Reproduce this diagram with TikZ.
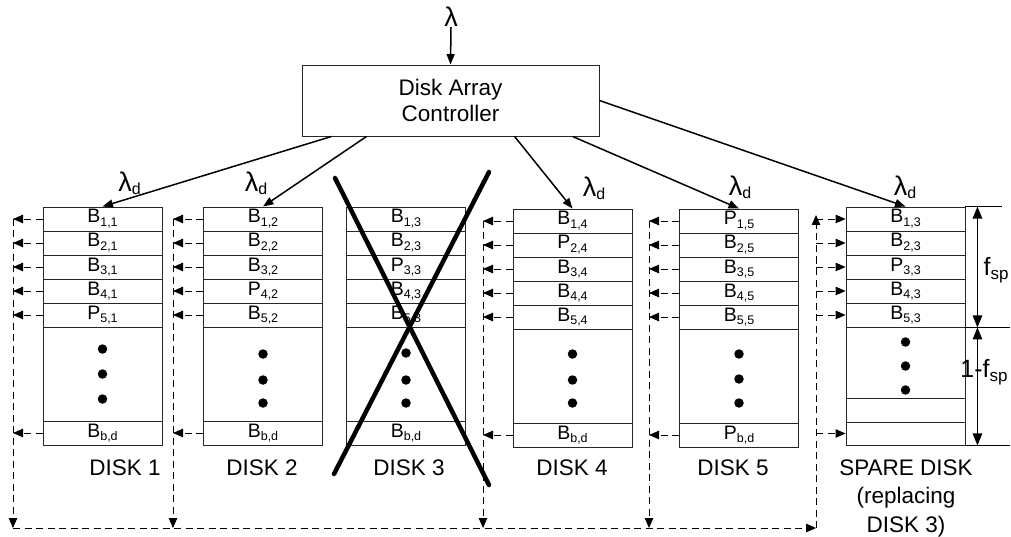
\documentclass[tikz,border=0pt]{standalone}
\usepackage{fontspec}
\setmainfont{Liberation Sans}
\usetikzlibrary{arrows.meta,calc}
\newcommand{\sbx}[2]{#1\raisebox{-3.5pt}{\fontsize{12.5pt}{12.5pt}\selectfont #2}}
\newcommand{\lamd}{{\fontsize{27pt}{27pt}\selectfont λ}\raisebox{-3pt}{\fontsize{16pt}{16pt}\selectfont d}}
\newcommand{\mkdisk}[9]{%
  \node[cell] (#1r1) at (#2,#3+12) {#4};
  \node[cell] (#1r2) at (#2,#3+36) {#5};
  \node[cell] (#1r3) at (#2,#3+60) {#6};
  \node[cell] (#1r4) at (#2,#3+84) {#7};
  \node[cell] (#1r5) at (#2,#3+108) {#8};
  \node[cell, minimum height=94pt] (#1m) at (#2,#3+167) {};
  \node[cell] (#1b) at (#2,#3+226) {#9};
}
\begin{document}
\begin{tikzpicture}[x=1pt,y=-1pt,
  cell/.style={draw=black!85, line width=0.9pt, minimum width=119pt, minimum height=24pt,
    inner sep=0pt, text height=12pt, text depth=4pt, font=\fontsize{19.5pt}{20pt}\selectfont},
  ctrlarr/.style={line width=1.5pt, -{Triangle[length=10.5pt,width=8pt]}},
  dasharr/.style={line width=0.9pt, dash pattern=on 7pt off 4.5pt, -{Triangle[length=10pt,width=8.5pt]}},
  dimarr/.style={line width=1.2pt, {Triangle[length=12pt,width=9.5pt]}-{Triangle[length=12pt,width=9.5pt]}},
  xline/.style={line width=4.5pt, line cap=round},
  dlabel/.style={font=\fontsize{22.5pt}{28.5pt}\selectfont, anchor=base, inner sep=0pt, align=center},
  lab/.style={inner sep=0pt},
  dot/.style={circle, fill=black, inner sep=0pt, minimum size=9.5pt}
]
\useasboundingbox (0,0) rectangle (1011,537);

% controller
\node[draw=black!85, line width=0.9pt, minimum width=297pt, minimum height=71pt, inner sep=0pt,
  align=center, font=\fontsize{22.5pt}{26pt}\selectfont] (ctrl) at (450.5,100.5) {Disk Array\\Controller};
\node[lab, anchor=base, font=\fontsize{27pt}{27pt}\selectfont] (lam) at (451,27) {λ};
\draw[ctrlarr] (lam.south) -- (ctrl.north);

% disks
\mkdisk{da}{102.5}{207}{\sbx{B}{1,1}}{\sbx{B}{2,1}}{\sbx{B}{3,1}}{\sbx{B}{4,1}}{\sbx{P}{5,1}}{\sbx{B}{b,d}}
\mkdisk{db}{263}{207}{\sbx{B}{1,2}}{\sbx{B}{2,2}}{\sbx{B}{3,2}}{\sbx{P}{4,2}}{\sbx{B}{5,2}}{\sbx{B}{b,d}}
\mkdisk{dc}{406}{207}{\sbx{B}{1,3}}{\sbx{B}{2,3}}{\sbx{P}{3,3}}{\sbx{B}{4,3}}{\sbx{B}{5,3}}{\sbx{B}{b,d}}
\mkdisk{dd}{572.5}{209}{\sbx{B}{1,4}}{\sbx{P}{2,4}}{\sbx{B}{3,4}}{\sbx{B}{4,4}}{\sbx{B}{5,4}}{\sbx{B}{b,d}}
\mkdisk{de}{739}{209}{\sbx{P}{1,5}}{\sbx{B}{2,5}}{\sbx{B}{3,5}}{\sbx{B}{4,5}}{\sbx{B}{5,5}}{\sbx{P}{b,d}}

% spare disk
\node[cell] (sr1) at (905.5,219) {\sbx{B}{1,3}};
\node[cell] (sr2) at (905.5,243) {\sbx{B}{2,3}};
\node[cell] (sr3) at (905.5,267) {\sbx{P}{3,3}};
\node[cell] (sr4) at (905.5,291) {\sbx{B}{4,3}};
\node[cell] (sr5) at (905.5,315) {\sbx{B}{5,3}};
\node[cell, minimum height=71pt] (sm) at (905.5,362.5) {};
\node[cell] (sr6) at (905.5,410) {};
\node[cell, minimum height=23pt] (sb) at (905.5,433.5) {};

% dots
\foreach \x/\a/\b/\c [count=\i] in {102.5/349/374/399, 263/354/380/403, 406/353/380/403,
    572.5/354/380/403, 739/354/379/403, 905.5/342/366/390}{
  \node[dot] (p\i a) at (\x,\a) {};
  \node[dot] (p\i b) at (\x,\b) {};
  \node[dot] (p\i c) at (\x,\c) {};
}

% controller connectors
\draw[ctrlarr] ($(ctrl.south west)+(30,0)$) -- (dar1.north);
\draw[ctrlarr] ($(ctrl.south west)+(65,0)$) -- (dbr1.north);
\draw[ctrlarr] ($(ctrl.south west)+(213,0)$) -- (ddr1.north);
\draw[ctrlarr] ($(ctrl.south west)+(271,0)$) -- (der1.north);
\draw[ctrlarr] (ctrl.east) -- (sr1.north);

\node[lab] (l1) at (129.5,183) {\lamd};
\node[lab] (l2) at (256,183) {\lamd};
\node[lab] (l4) at (594,188) {\lamd};
\node[lab] (l5) at (740,187) {\lamd};
\node[lab] (l6) at (905,187) {\lamd};

% dashed return paths
\coordinate (xa) at (13,0);
\coordinate (xb) at (173,0);
\coordinate (xd) at (483,0);
\coordinate (xe) at (649,0);
\coordinate (xs) at (816,0);
\coordinate (ya) at (0,528);
\foreach \d/\v in {da/xa, db/xb, dd/xd, de/xe}{
  \foreach \r in {r1,r2,r3,r4,r5,b}{
    \draw[dasharr] (\d\r.west) -- (\d\r.west -| \v);
  }
  \draw[dasharr] (\d r1.west -| \v) -- (ya -| \v);
}
\draw[dasharr] (ya -| xa) -- (ya -| xs);
\draw[dasharr] (ya -| xs) -- ($(sr1.west -| xs)+(0,-4)$);
\foreach \r in {sr1,sr2,sr3,sr4,sr5,sb}{
  \draw[dasharr] (\r.west -| xs) -- (\r.west);
}

% dimension lines
\draw[line width=1.5pt] (sr1.north east) -- ++(37,0);
\draw[line width=1.2pt] (sr5.south east) -- ++(45,0);
\draw[line width=1.2pt] (sb.south east) -- ++(45,0);
\draw[dimarr] ($(sr1.north east)+(12,0)$) -- ($(sr5.south east)+(12,0)$);
\draw[dimarr] ($(sr5.south east)+(12,0)$) -- ($(sb.south east)+(12,0)$);
\node[lab, font=\fontsize{25pt}{25pt}\selectfont] (fsp) at (996,270) {f\raisebox{-4pt}{\fontsize{17pt}{17pt}\selectfont sp}};
\node[lab, font=\fontsize{25pt}{25pt}\selectfont] (ofsp) at (984,372) {1-f\raisebox{-4pt}{\fontsize{17pt}{17pt}\selectfont sp}};

% failed disk cross
\draw[xline] (335,178) -- (489,485);
\draw[xline] (489,172) -- (334,474);

% disk labels
\node[dlabel] (n1) at (125,475) {DISK 1};
\node[dlabel] (n2) at (262,475) {DISK 2};
\node[dlabel] (n3) at (409,475) {DISK 3};
\node[dlabel] (n4) at (572,475) {DISK 4};
\node[dlabel] (n5) at (733,475) {DISK 5};
\node[dlabel] (n6) at (906,532) {SPARE DISK\\(replacing\\DISK 3)};
\end{tikzpicture}
\end{document}
